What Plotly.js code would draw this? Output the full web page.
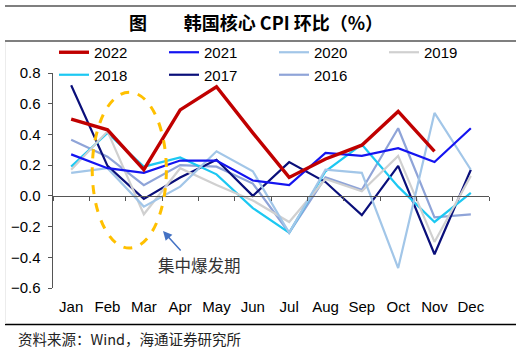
<!DOCTYPE html>
<html>
<head>
<meta charset="utf-8">
<script src="https://cdn.plot.ly/plotly-3.0.1.min.js"></script>
<style>html,body{margin:0;padding:0;background:#fff;}#chart{width:522px;height:352px;}</style>
</head>
<body>
<div id="chart"></div>
<script>
const months = ["Jan","Feb","Mar","Apr","May","Jun","Jul","Aug","Sep","Oct","Nov","Dec"];
const y2022 = [0.50, 0.43, 0.17, 0.56, 0.71, 0.41, 0.12, 0.24, 0.33, 0.55, 0.29];
const y2021 = [0.27, 0.18, 0.15, 0.23, 0.23, 0.10, 0.07, 0.28, 0.26, 0.31, 0.22, 0.44];
const y2020 = [0.15, 0.18, -0.07, 0.06, 0.29, 0.16, -0.24, 0.17, 0.15, -0.47, 0.54, 0.17];
const y2019 = [0.17, 0.42, -0.12, 0.18, 0.07, -0.03, -0.17, 0.11, 0.03, 0.26, -0.30, 0.13];
const y2018 = [0.19, 0.41, 0.19, 0.25, 0.14, -0.08, -0.24, 0.16, 0.335, 0.06, -0.17, 0.02];
const y2017 = [0.72, 0.195, -0.02, 0.12, 0.235, 0.0, 0.22, 0.09, -0.125, 0.195, -0.38, 0.17];
const y2016 = [0.365, 0.255, 0.07, 0.20, 0.19, 0.08, -0.24, 0.12, 0.04, 0.44, -0.14, -0.12];

const series = [
  {name:"2016", y:y2016, color:"#8FA4D8", w:2.2, rank:7},
  {name:"2017", y:y2017, color:"#0A0F7A", w:2.2, rank:6},
  {name:"2018", y:y2018, color:"#1CC8F2", w:2.2, rank:5},
  {name:"2019", y:y2019, color:"#D0D0D0", w:2.2, rank:4},
  {name:"2020", y:y2020, color:"#A2C6E8", w:2.2, rank:3},
  {name:"2021", y:y2021, color:"#1414F0", w:2.2, rank:2},
  {name:"2022", y:y2022, color:"#C00000", w:3.4, rank:1}
];

const traces = series.map(s => ({
  type:"scatter", mode:"lines", name:s.name,
  x: months.slice(0, s.y.length), y: s.y,
  line:{color:s.color, width:s.w},
  legendrank:s.rank, hoverinfo:"skip"
}));
// helper axis for the zero line ticks
traces.push({type:"scatter", mode:"none", x:[0], y:[0], xaxis:"x2", yaxis:"y", showlegend:false, hoverinfo:"skip"});

const L = 53, R = 489, T = 73, B = 288;
const px2x = p => (p - L) / (R - L);
const px2y = p => (B - p) / (B - T);

const layout = {
  width:522, height:352,
  margin:{l:L, r:522-R, t:T, b:352-B},
  paper_bgcolor:"#fff", plot_bgcolor:"#fff",
  font:{family:"Liberation Sans, Arial, sans-serif", color:"#000", size:15},
  title:{text:"<b>图&nbsp;&nbsp;&nbsp;&nbsp;&nbsp;&nbsp;&nbsp;&nbsp;&nbsp;韩国核心 CPI 环比（%）</b>", font:{family:"Noto Sans CJK SC, Liberation Sans, sans-serif", size:18, color:"#000"},
         xref:"container", yref:"container", x:256/522, xanchor:"center", y:1-24/352, yanchor:"middle"},
  showlegend:true,
  legend:{orientation:"h", x:px2x(54), xanchor:"left", y:px2y(36), yanchor:"top",
          entrywidth:65, entrywidthmode:"pixels", font:{size:15, color:"#000"},
          bgcolor:"rgba(0,0,0,0)", tracegroupgap:0, itemwidth:30},
  xaxis:{type:"category", categoryorder:"array", categoryarray:months, range:[-0.5,11.5],
         showline:false, showgrid:false, zeroline:false, ticks:"", ticklabelstandoff:8,
         tickfont:{size:15}, fixedrange:true},
  xaxis2:{overlaying:"x", anchor:"free", position:0.6/1.4, range:[-0.5,11.5], tick0:-0.5, dtick:1,
          showline:true, linecolor:"#555", linewidth:1.5, ticks:"outside", ticklen:4, tickcolor:"#555",
          showticklabels:false, showgrid:false, zeroline:false, side:"bottom"},
  yaxis:{range:[-0.6,0.8], dtick:0.2, tick0:0, tickformat:".1f", showline:true, linecolor:"#555", linewidth:1.5,
         ticks:"outside", ticklen:4, tickcolor:"#555", showgrid:false, zeroline:false, tickfont:{size:15},
         ticklabelstandoff:4},
  shapes:[
    {type:"line", xref:"paper", yref:"paper", x0:px2x(5), x1:px2x(516), y0:px2y(6), y1:px2y(6), line:{color:"#7f7f7f", width:2}},
    {type:"line", xref:"paper", yref:"paper", x0:px2x(5), x1:px2x(516), y0:px2y(41), y1:px2y(41), line:{color:"#7f7f7f", width:2}},
    {type:"line", xref:"paper", yref:"paper", x0:px2x(5), x1:px2x(516), y0:px2y(324.5), y1:px2y(324.5), line:{color:"#000", width:1.5}},
    {type:"line", xref:"paper", yref:"paper", x0:px2x(5.5), x1:px2x(5.5), y0:px2y(42), y1:px2y(323.5), line:{color:"#ececec", width:1}},
    {type:"circle", xref:"x", yref:"y", x0:0.58, x1:2.62, y0:-0.34, y1:0.675, line:{color:"#FFC000", width:3, dash:"dash"}}
  ],
  annotations:[
    {xref:"paper", yref:"paper", x:px2x(163), y:px2y(231), ax:19, ay:21,
     showarrow:true, arrowhead:2, arrowsize:1.2, arrowwidth:1.5, arrowcolor:"#4472C4", text:""},
    {xref:"paper", yref:"paper", x:px2x(199), y:px2y(265), xanchor:"center", yanchor:"middle", showarrow:false,
     text:"集中爆发期", font:{family:"Noto Sans CJK SC, sans-serif", size:16.5, color:"#333"}},
    {xref:"paper", yref:"paper", x:px2x(16), y:px2y(338), xanchor:"left", yanchor:"middle", showarrow:false,
     text:"资料来源：Wind，海通证券研究所", font:{family:"Noto Sans CJK SC, sans-serif", size:14.5, color:"#222"}}
  ]
};

Plotly.newPlot("chart", traces, layout, {displayModeBar:false, staticPlot:true});
</script>
</body>
</html>
